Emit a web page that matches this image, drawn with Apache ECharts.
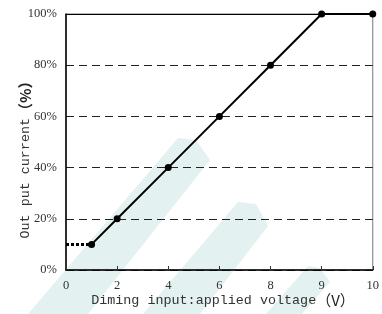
<!DOCTYPE html>
<html><head><meta charset="utf-8">
<script src="https://cdn.jsdelivr.net/npm/echarts@6/dist/echarts.min.js"></script>
<style>html,body{margin:0;padding:0;background:#fff}#c{width:382px;height:314px}</style>
</head><body><div id="c"></div>
<script>
const xTickLabels = ['0','2','4','6','8','9','10'];
const tickVolts = [0,2,4,6,8,9,10];
const voltage = [1,2,4,6,8,9,10];
const current = [10,20,40,60,80,100,100];
const dimVoltage = [0,1];
const dimCurrent = [10,10];
const yTickLabels = ['0%','20%','40%','60%','80%','100%'];

// piecewise scale: ticks are evenly spaced on the axis
function pos(v){
  for (let i=0;i<tickVolts.length-1;i++){
    if (v>=tickVolts[i] && v<=tickVolts[i+1]) return i + (v-tickVolts[i])/(tickVolts[i+1]-tickVolts[i]);
  }
  return tickVolts.length-1;
}
const chart = echarts.init(document.getElementById('c'));
const wm = '#e3f2f1';
chart.setOption({
  animation:false,
  backgroundColor:'#fff',
  grid:{left:66,right:9,top:14,bottom:44,show:true,borderColor:'#777',borderWidth:1,backgroundColor:'transparent'},
  graphic:[
    {type:'polygon',z:-5,shape:{points:[[28,314],[178,138],[196,140],[210,160],[88,314]]},style:{fill:wm}},
    {type:'polygon',z:-5,shape:{points:[[143,314],[238,202],[256,204],[268,226],[200,314]]},style:{fill:wm}},
    {type:'polygon',z:-5,shape:{points:[[266,314],[308,266],[320,268],[330,282],[302,314]]},style:{fill:wm}},
    {type:'text',z:10,x:223,y:300,
      style:{text:'{a|Diming input:applied voltage}{b|（V）}',align:'center',verticalAlign:'middle',
      rich:{a:{fontFamily:'Liberation Mono',fontSize:13.4,fill:'#333'},b:{fontFamily:'Noto Sans CJK SC',fontSize:15,fill:'#222'}}}},
    {type:'text',z:10,x:25,y:156,rotation:Math.PI/2,
      style:{text:'{a|Out put current}{b|（%）}',align:'center',verticalAlign:'middle',
      rich:{a:{fontFamily:'Liberation Mono',fontSize:13.4,fill:'#333'},b:{fontFamily:'Noto Sans CJK SC',fontSize:15,fontWeight:'bold',fill:'#222'}}}}
  ],
  xAxis:[{
    type:'value',min:0,max:xTickLabels.length-1,interval:1,
    axisLine:{lineStyle:{color:'#000',width:1.5}},
    axisTick:{show:true,inside:true,length:4,lineStyle:{color:'#333'}},
    axisLabel:{formatter:v=>xTickLabels[v],fontFamily:'Liberation Serif',fontSize:12.5,color:'#333',margin:9},
    splitLine:{show:false}
  },{
    type:'value',position:'top',min:0,max:xTickLabels.length-1,
    axisLine:{show:true,lineStyle:{color:'#000',width:1}},axisTick:{show:false},axisLabel:{show:false},splitLine:{show:false}
  }],
  yAxis:{
    type:'value',min:0,max:100,interval:20,
    axisLine:{show:true,lineStyle:{color:'#000',width:1.5}},
    axisTick:{show:false},
    axisLabel:{formatter:v=>yTickLabels[v/20],fontFamily:'Liberation Serif',fontSize:12.5,color:'#333',margin:9},
    splitLine:{show:true,lineStyle:{color:'#222',width:1,type:[8,5]}}
  },
  series:[
    {type:'line',data:voltage.map((v,i)=>[pos(v),current[i]]),
     lineStyle:{color:'#000',width:2},itemStyle:{color:'#000'},symbol:'circle',symbolSize:7,z:5},
    {type:'line',data:dimVoltage.map((v,i)=>[pos(v),dimCurrent[i]]),
     lineStyle:{color:'#000',width:3,type:[3,2]},symbol:'none',z:4}
  ]
});
</script></body></html>
